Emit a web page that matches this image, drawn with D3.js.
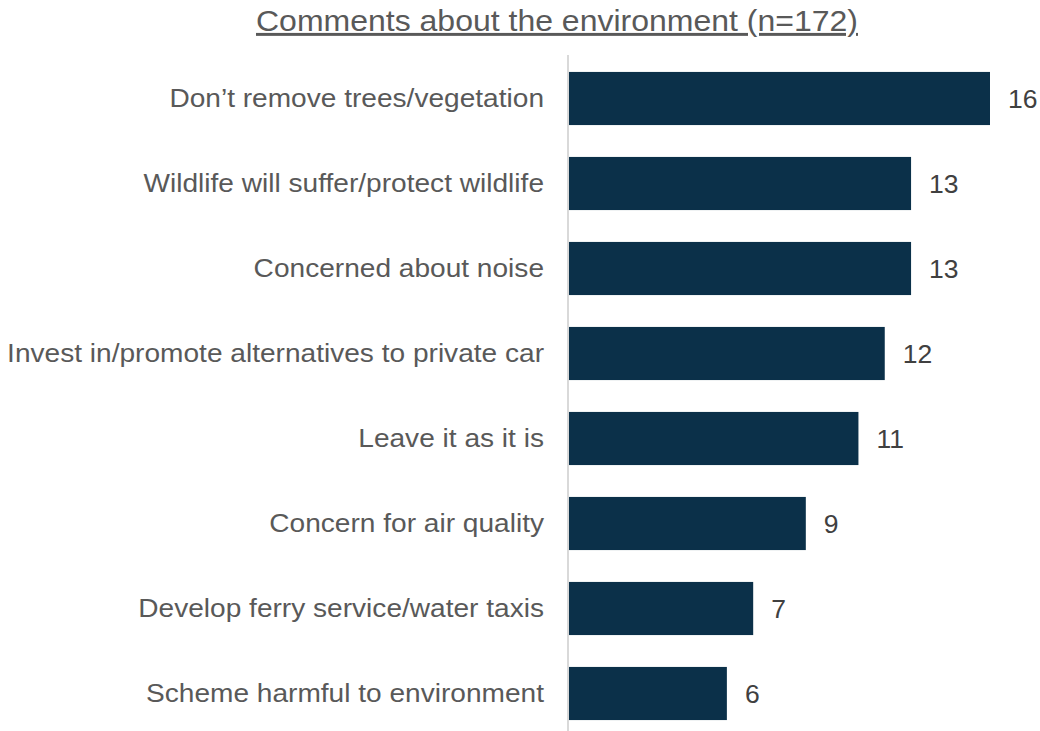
<!DOCTYPE html>
<html>
<head>
<meta charset="utf-8">
<script src="https://cdn.jsdelivr.net/npm/d3@7"></script>
<style>
  html, body { margin: 0; padding: 0; background: #ffffff; }
  svg { display: block; font-family: "Liberation Sans", Arial, sans-serif; }
</style>
</head>
<body>
<svg id="chart" width="1040" height="731"></svg>
<script>
// Comment themes and their counts, top to bottom
const categories = [
  "Don\u2019t remove trees/vegetation",
  "Wildlife will suffer/protect wildlife",
  "Concerned about noise",
  "Invest in/promote alternatives to private car",
  "Leave it as it is",
  "Concern for air quality",
  "Develop ferry service/water taxis",
  "Scheme harmful to environment"
];
const counts = [16, 13, 13, 12, 11, 9, 7, 6];
const title = "Comments about the environment (n=172)";

const svg = d3.select("#chart");
const margin = { top: 56, left: 569 };
const plotBottom = 736;

const x = d3.scaleLinear().domain([0, 16]).range([margin.left, 990]);
const y = d3.scaleBand()
  .domain(categories)
  .range([margin.top, plotBottom])
  .paddingInner(0.375)
  .paddingOuter(0.1875);

// Title, underlined, set slightly wide
const titleStretch = 1.085;
svg.append("text")
  .attr("transform", `scale(${titleStretch},1)`)
  .attr("x", 557 / titleStretch)
  .attr("y", 31)
  .attr("text-anchor", "middle")
  .attr("fill", "#595959")
  .attr("font-size", 29.5)
  .attr("text-decoration", "underline")
  .text(title);

// Bars
svg.append("g").selectAll("rect")
  .data(counts)
  .join("rect")
  .attr("x", x(0))
  .attr("y", (d, i) => y(categories[i]))
  .attr("width", d => x(d) - x(0))
  .attr("height", y.bandwidth())
  .attr("fill", "#0b3049");

// Category axis: vertical rule with labels on the left
const labelStretch = 1.06;
const labelPad = 24;
const yAxis = d3.axisLeft(y).tickSize(0).tickPadding(labelPad);
const gy = svg.append("g")
  .attr("transform", `translate(${x(0) - 1},0)`)
  .call(yAxis);
gy.select(".domain")
  .attr("d", "M0,55V731")
  .attr("stroke", "#d9d9d9")
  .attr("stroke-width", 2);
gy.selectAll(".tick text")
  .attr("fill", "#595959")
  .attr("font-size", 26.5)
  .attr("font-family", "'Liberation Sans', Arial, sans-serif")
  .attr("transform", `scale(${labelStretch},1)`)
  .attr("x", -labelPad / labelStretch);

// Value labels
svg.append("g").selectAll("text")
  .data(counts)
  .join("text")
  .attr("x", d => x(d) + 18)
  .attr("y", (d, i) => y(categories[i]) + y.bandwidth() / 2)
  .attr("dy", "0.36em")
  .attr("fill", "#404040")
  .attr("font-size", 26.5)
  .text(d => d);
</script>
</body>
</html>
